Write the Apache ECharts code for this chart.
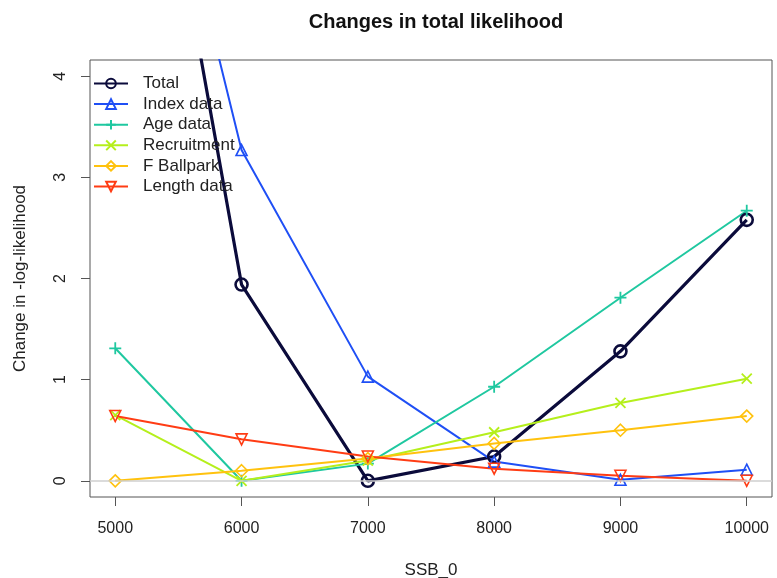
<!DOCTYPE html>
<html><head><meta charset="utf-8">
<script src="https://cdn.jsdelivr.net/npm/echarts@6/dist/echarts.min.js"></script>
<style>html,body{margin:0;padding:0;background:#fff}#c{width:777px;height:578px}</style>
</head><body><div id="c"></div>
<script>
const ssb = [5000, 6000, 7000, 8000, 9000, 10000];
const total = [8.9, 1.94, 0.0, 0.24, 1.28, 2.58];
const indexData = [8.35, 3.27, 1.03, 0.19, 0.01, 0.11];
const ageData = [1.31, 0.0, 0.17, 0.93, 1.81, 2.67];
const recruitment = [0.65, 0.0, 0.20, 0.48, 0.77, 1.01];
const fBallpark = [0.0, 0.10, 0.22, 0.37, 0.50, 0.64];
const lengthData = [0.64, 0.41, 0.24, 0.12, 0.05, 0.0];
const xTicks = [5000, 6000, 7000, 8000, 9000, 10000];
const yTicks = [0, 1, 2, 3, 4];

const FONT = '"Liberation Sans", Arial, sans-serif';
const TXT = '#222';

function mk(name, vals, col, symbol, size, lw, bw, extra) {
  return Object.assign({
    name: name, type: 'line',
    data: ssb.map((x, i) => [x, vals[i]]),
    symbol: symbol, symbolSize: size, showSymbol: true,
    clip: true,
    lineStyle: { color: col, width: lw },
    itemStyle: { color: 'rgba(0,0,0,0)', borderColor: col, borderWidth: bw },
    emphasis: { disabled: true },
    animation: false
  }, extra || {});
}

const series = [
  mk('Total', total, '#0b0b3b', 'circle', 12, 3.2, 2.6),
  mk('Index data', indexData, '#1f4ff5', 'triangle', 11, 2, 1.6),
  mk('Age data', ageData, '#1fc8a0', 'path://M0,5L10,5M5,0L5,10', 12, 2, 1.8),
  mk('Recruitment', recruitment, '#b5ef1c', 'path://M0,0L10,10M0,10L10,0', 10, 2, 1.8),
  mk('F Ballpark', fBallpark, '#ffc20e', 'diamond', 12, 2, 1.6),
  mk('Length data', lengthData, '#ff3c14', 'triangle', 11, 2, 1.6, { symbolRotate: 180 })
];
series[0].markLine = {
  silent: true, symbol: 'none', label: { show: false },
  lineStyle: { color: '#cfcfcf', width: 1.5, type: 'solid' },
  data: [{ yAxis: 0 }]
};

const chart = echarts.init(document.getElementById('c'), null, { renderer: 'canvas' });
chart.setOption({
  backgroundColor: '#fff',
  animation: false,
  title: {
    text: 'Changes in total likelihood', left: 431, top: 7, textAlign: 'center',
    textStyle: { fontFamily: FONT, fontSize: 20, fontWeight: 'bold', color: '#111' }
  },
  legend: {
    orient: 'vertical', left: 93, top: 75, padding: 0,
    itemWidth: 34, itemHeight: 12, itemGap: 3.6,
    selectedMode: false,
    textStyle: { fontFamily: FONT, fontSize: 17, color: TXT, padding: [0, 0, 0, 10] },
    data: series.map(s => s.name)
  },
  grid: { left: 90, right: 5, top: 60, bottom: 81, outerBoundsMode: 'none', containLabel: false,
    show: true, borderColor: '#555', borderWidth: 1, backgroundColor: 'transparent' },
  xAxis: {
    type: 'value', min: 4800, max: 10200,
    name: 'SSB_0', nameLocation: 'middle', nameGap: 65,
    nameTextStyle: { fontFamily: FONT, fontSize: 17, color: TXT },
    axisLine: { show: false, onZero: false },
    splitLine: { show: false },
    axisTick: { show: true, length: 9, lineStyle: { color: '#555' }, customValues: xTicks },
    axisLabel: { fontFamily: FONT, fontSize: 16, color: TXT, margin: 24, customValues: xTicks, formatter: v => String(v) }
  },
  yAxis: {
    type: 'value', min: -0.16, max: 4.16,
    name: 'Change in -log-likelihood', nameLocation: 'middle', nameGap: 61,
    nameTextStyle: { fontFamily: FONT, fontSize: 17, color: TXT },
    axisLine: { show: false, onZero: false },
    splitLine: { show: false },
    axisTick: { show: true, length: 9, lineStyle: { color: '#555' }, customValues: yTicks },
    axisLabel: { fontFamily: FONT, fontSize: 16, color: TXT, margin: 21, rotate: 90, customValues: yTicks }
  },
  series: series
});
</script>
</body></html>
